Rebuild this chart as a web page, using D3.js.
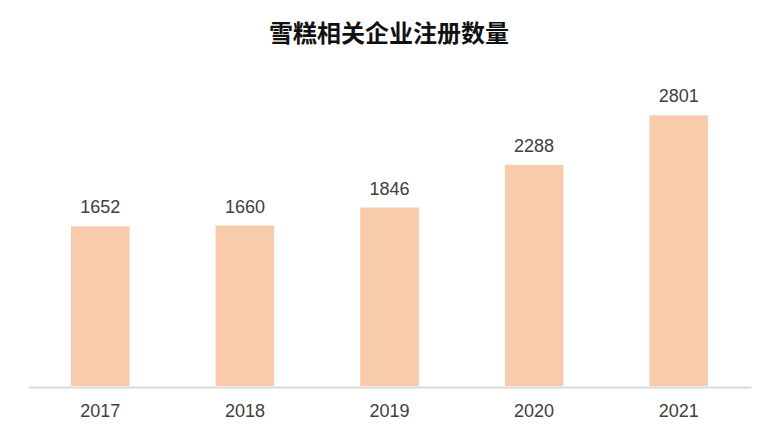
<!DOCTYPE html>
<html>
<head>
<meta charset="utf-8">
<script src="https://cdn.jsdelivr.net/npm/d3@7"></script>
<style>
  html, body { margin: 0; padding: 0; background: #fff; }
  svg { display: block; }
</style>
</head>
<body>
<div id="chart"></div>
<script>
  // chart data
  var years = ['2017', '2018', '2019', '2020', '2021'];
  var counts = [1652, 1660, 1846, 2288, 2801];
  var title = '雪糕相关企业注册数量';

  var W = 769, H = 440;
  var margin = { left: 28, right: 18, top: 96, bottom: 54 };
  var baseY = H - margin.bottom;

  var svg = d3.select('#chart').append('svg')
    .attr('width', W).attr('height', H);

  var x = d3.scaleBand().domain(years)
    .range([margin.left, W - margin.right])
    .paddingInner(0.595).paddingOuter(0.2975);
  var y = d3.scaleLinear().domain([0, 3000]).range([baseY, margin.top]);

  svg.append('text')
    .attr('x', 389).attr('y', 42)
    .attr('text-anchor', 'middle')
    .style('font-family', '"Noto Sans CJK SC", sans-serif')
    .style('font-weight', 'bold').style('font-size', '24px')
    .attr('fill', '#111')
    .text(title);

  var data = years.map(function (yr, i) { return { year: yr, value: counts[i] }; });

  svg.append('g').selectAll('rect').data(data).join('rect')
    .attr('x', function (d) { return x(d.year); })
    .attr('y', function (d) { return y(d.value); })
    .attr('width', x.bandwidth())
    .attr('height', function (d) { return baseY - y(d.value); })
    .attr('fill', '#F8CBAD');

  svg.append('g').selectAll('text').data(data).join('text')
    .attr('x', function (d) { return x(d.year) + x.bandwidth() / 2; })
    .attr('y', function (d) { return y(d.value) - 13; })
    .attr('text-anchor', 'middle')
    .style('font-family', '"Liberation Sans", Arial, sans-serif')
    .style('font-size', '18px')
    .attr('fill', '#404040')
    .text(function (d) { return d.value; });

  // category axis: plain baseline, no ticks
  var axis = svg.append('g').attr('transform', 'translate(0,' + (baseY + 1) + ')')
    .call(d3.axisBottom(x).tickSize(0).tickPadding(17));
  axis.select('.domain').attr('stroke', '#D9D9D9').attr('stroke-width', 2);
  axis.selectAll('text')
    .style('font-family', '"Liberation Sans", Arial, sans-serif')
    .style('font-size', '18px')
    .attr('fill', '#404040');
</script>
</body>
</html>
